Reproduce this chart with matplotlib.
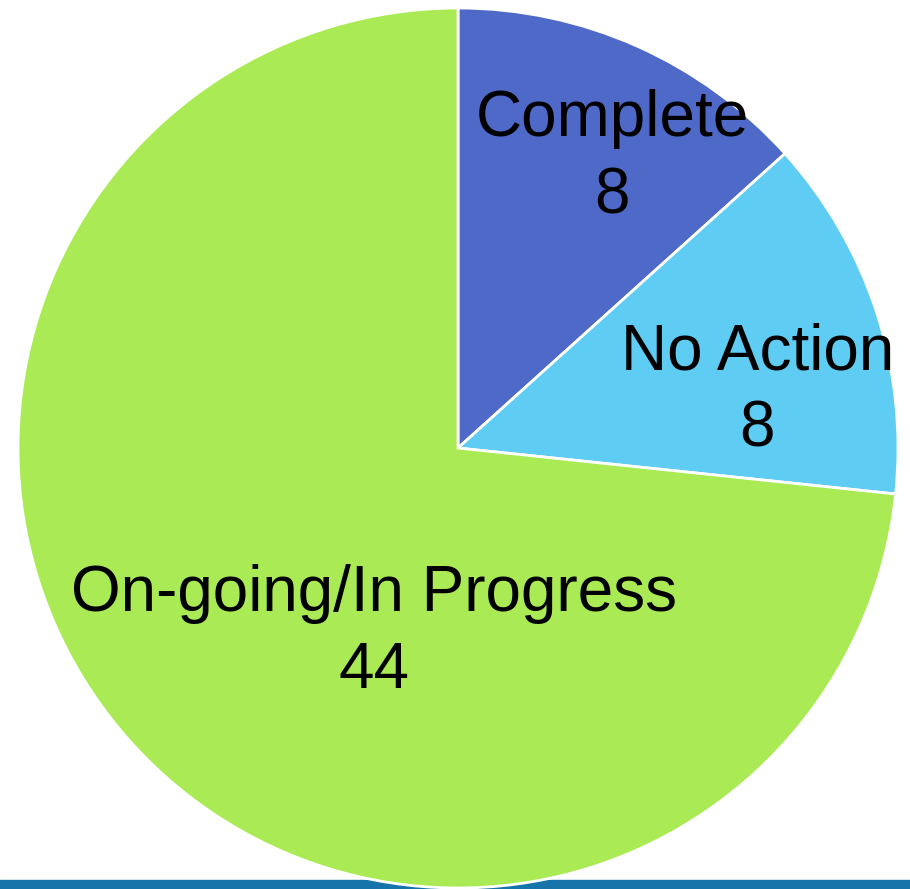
import matplotlib
matplotlib.use("agg")
import matplotlib.pyplot as plt
from matplotlib.patches import Rectangle

labels = ["Complete", "No Action", "On-going/In Progress"]
counts = [8, 8, 44]
colors = ["#4F69C9", "#5FCCF3", "#AAEB55"]
# label offsets (x, y) in axes data units
label_pos = [(0.35, 0.66), (0.68, 0.13), (-0.19, -0.42)]


def main():
    fig = plt.figure(figsize=(9.1, 8.89), dpi=100)
    # slide background strip along the bottom edge
    fig.patches.append(Rectangle((0, 0), 1, 9 / 889, transform=fig.transFigure,
                                 color="#1674AA", zorder=-5))
    ax = fig.add_axes([18 / 910, 1 / 889, 880 / 910, 880 / 889])
    ax.set_facecolor("none")
    ax.set_zorder(2)
    ax.pie(counts, colors=colors, startangle=90, counterclock=False,
           wedgeprops={"edgecolor": "white", "linewidth": 2})
    for lab, n, (x, y) in zip(labels, counts, label_pos):
        ax.text(x, y, f"{lab}\n{n}", ha="center", va="center", fontsize=46,
                family="Liberation Sans", linespacing=1.37)
    ax.set_xlim(-1, 1)
    ax.set_ylim(-1, 1)
    ax.set_aspect("equal")
    ax.axis("off")
    fig.savefig("out.png", dpi=100)


if __name__ == "__main__":
    main()
